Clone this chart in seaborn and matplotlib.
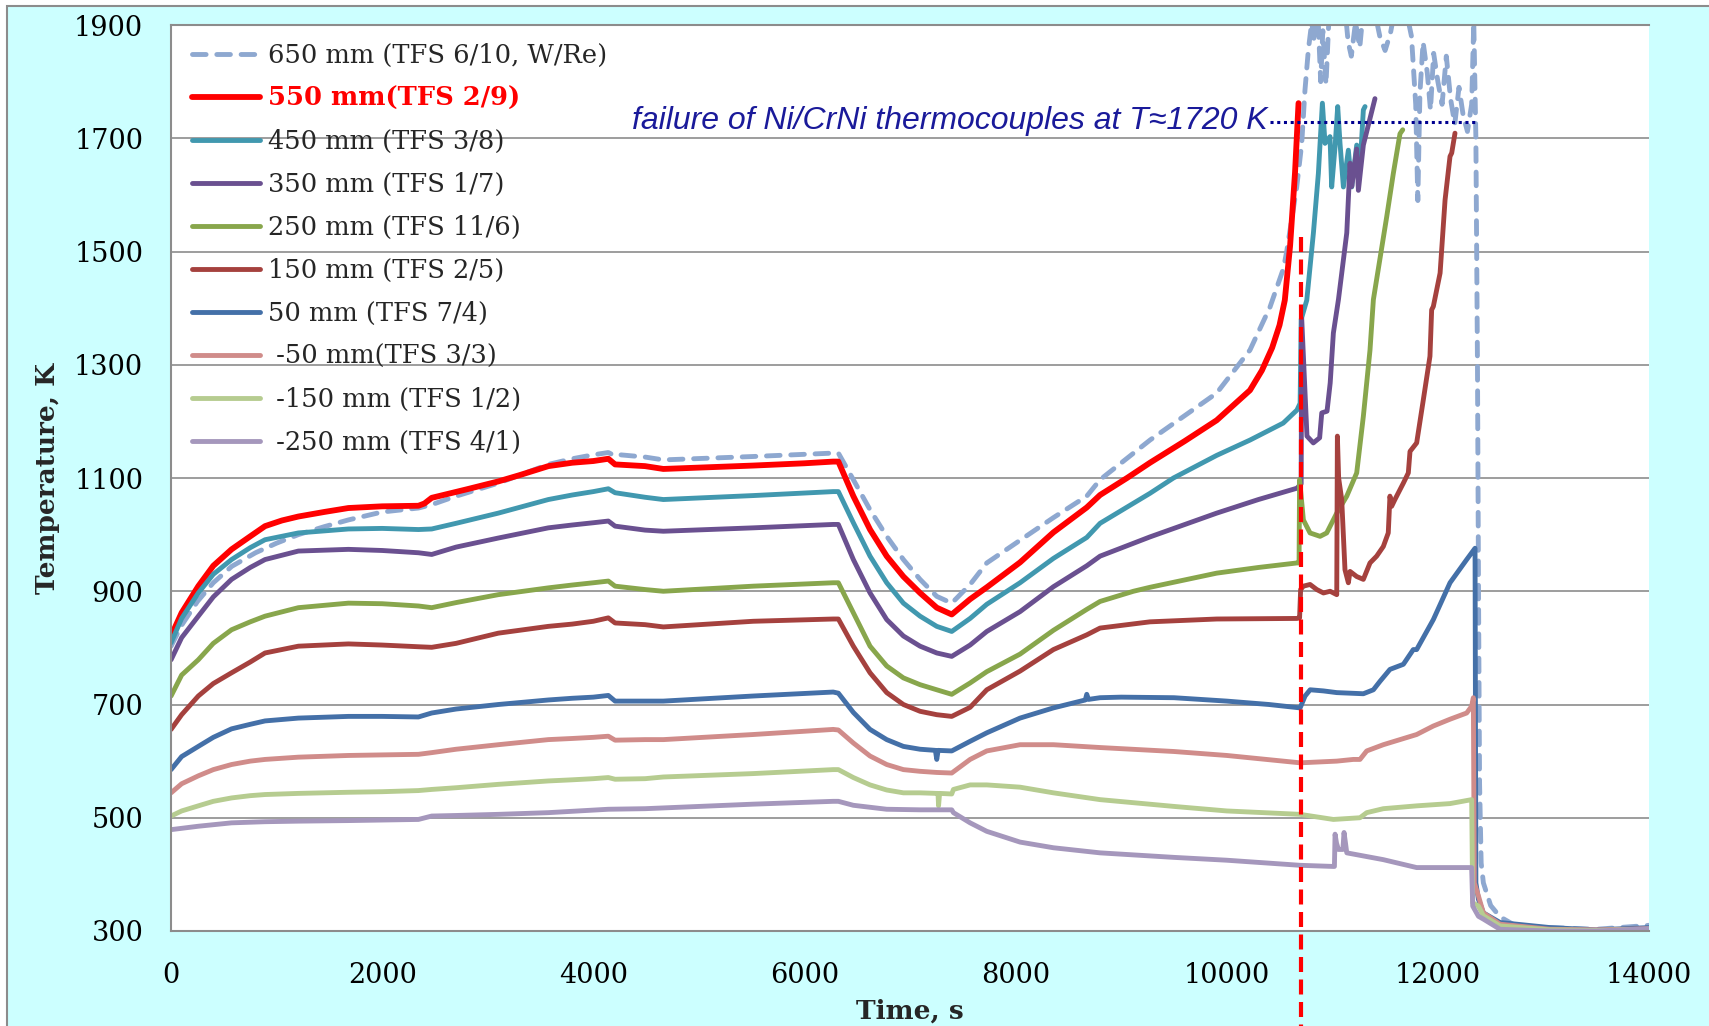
import numpy as np
import pandas as pd
import matplotlib
matplotlib.use("Agg")
import matplotlib.pyplot as plt
from matplotlib.patches import Rectangle
import seaborn as sns

# ---------------- thermocouple readings: time (s) and temperature (K) ----------------
t_650 = [0, 100, 250, 400, 575, 800, 1000, 1205, 1450, 1680, 2000, 2343, 2469, 2700, 3100, 3574,
         3800, 4000, 4142, 4206, 4253, 4490, 4663, 5515, 6272, 6321, 6463, 6621, 6779, 6937, 7095,
         7253, 7395, 7569, 7727, 8042, 8358, 8674, 8800, 9273, 9905, 10220, 10410, 10537, 10568,
         10663, 10710, 10741, 10773, 10805, 10830, 10860, 10890, 10910, 10940, 10970, 11010, 11060,
         11110, 11150, 11180, 11220, 11260, 11300, 11350, 11400, 11450, 11500, 11550, 11600, 11650,
         11700, 11750, 11790, 11810, 11830, 11860, 11900, 11930, 11960, 12000, 12040, 12080, 12120,
         12160, 12200, 12240, 12280, 12320, 12340, 12360, 12375, 12385, 12395, 12410, 12431, 12500,
         12589, 12747, 13063, 13500, 14000]
T_650 = [803, 840, 882, 915, 944, 968, 985, 1000, 1014, 1026, 1040, 1047, 1053, 1068, 1091, 1124,
         1134, 1141, 1145, 1139, 1141, 1137, 1132, 1138, 1144, 1144, 1097, 1044, 997, 956, 921,
         891, 879, 912, 950, 990, 1030, 1068, 1097, 1167, 1250, 1326, 1402, 1470, 1500,
         1614, 1690, 1785, 1856, 1905, 1870, 1935, 1800, 1890, 1795, 1920, 1960, 1905,
         1950, 1870, 1845, 1905, 1860, 1940, 1960, 1925, 1880, 1855, 1885, 1935, 1960,
         1925, 1880, 1760, 1590, 1780, 1870, 1815, 1750, 1850, 1800, 1760, 1845, 1770,
         1725, 1790, 1740, 1712, 1760, 1905, 1700, 1300, 900, 560, 420, 385, 345,
         325, 308, 306, 303, 310]

t_550 = [0, 100, 258, 400, 573, 750, 890, 1050, 1206, 1450, 1680, 2000, 2343, 2400, 2469, 2800,
         3100, 3300, 3574, 3800, 4000, 4142, 4206, 4490, 4663, 5515, 6000, 6272, 6321, 6463, 6621,
         6779, 6937, 7095, 7253, 7395, 7569, 7727, 8042, 8358, 8674, 8800, 9055, 9273, 9600, 9905,
         10220, 10333, 10430, 10500, 10550, 10600, 10647, 10680]
T_550 = [821, 862, 909, 945, 974, 997, 1015, 1025, 1032, 1040, 1047, 1050, 1051, 1055, 1065, 1080,
         1094, 1105, 1121, 1127, 1130, 1134, 1124, 1121, 1116, 1122, 1126, 1129, 1129, 1068, 1009,
         962, 926, 897, 871, 859, 886, 907, 951, 1004, 1048, 1070, 1100, 1127, 1165, 1202,
         1255, 1290, 1330, 1370, 1414, 1510, 1640, 1762]

t_450 = [0, 100, 258, 400, 573, 750, 890, 1206, 1680, 2000, 2343, 2469, 2700, 3100, 3574, 3800,
         4000, 4142, 4206, 4490, 4663, 5515, 6272, 6321, 6463, 6621, 6779, 6937, 7095, 7253, 7395,
         7569, 7727, 8042, 8358, 8674, 8800, 9273, 9495, 9905, 10220, 10535, 10665, 10695, 10705,
         10758, 10821, 10868, 10884, 10906, 10931, 10978, 10994, 11026, 11051, 11073, 11105, 11152,
         11184, 11231, 11262, 11294, 11310]
T_450 = [809, 852, 897, 930, 956, 977, 991, 1003, 1010, 1011, 1009, 1010, 1020, 1038, 1062, 1070,
         1076, 1081, 1074, 1066, 1062, 1069, 1076, 1076, 1021, 962, 915, 879, 856, 838, 829,
         852, 877, 915, 958, 995, 1020, 1073, 1100, 1140, 1167, 1197, 1220, 1232, 1380,
         1414, 1533, 1638, 1691, 1762, 1691, 1703, 1614, 1685, 1756, 1691, 1614, 1679,
         1614, 1688, 1647, 1750, 1756]

t_350 = [0, 100, 258, 400, 573, 750, 890, 1206, 1680, 2000, 2343, 2469, 2700, 3100, 3574, 3800,
         4000, 4142, 4206, 4490, 4663, 5515, 6272, 6321, 6463, 6621, 6779, 6937, 7095, 7253, 7395,
         7569, 7727, 8042, 8358, 8674, 8800, 9273, 9905, 10300, 10665, 10705, 10710, 10760, 10820,
         10880, 10900, 10950, 10980, 11010, 11058, 11137, 11168, 11184, 11231, 11247, 11294, 11357,
         11404]
T_350 = [779, 818, 856, 890, 921, 942, 956, 971, 974, 972, 968, 965, 978, 994, 1012, 1017,
         1021, 1024, 1015, 1008, 1006, 1012, 1018, 1018, 956, 897, 850, 821, 803, 791, 785,
         805, 829, 864, 908, 945, 962, 996, 1038, 1062, 1082, 1090, 1382, 1174, 1162,
         1171, 1215, 1218, 1268, 1356, 1415, 1533, 1656, 1615, 1681, 1608, 1688, 1735,
         1770]

t_250 = [0, 100, 258, 400, 573, 750, 890, 1206, 1680, 2000, 2343, 2469, 2700, 3100, 3574, 3800,
         4000, 4142, 4206, 4490, 4663, 5515, 6272, 6321, 6463, 6621, 6779, 6937, 7095, 7253, 7395,
         7569, 7727, 8042, 8358, 8674, 8800, 9116, 9273, 9905, 10300, 10665, 10685, 10690, 10726,
         10789, 10884, 10947, 11042, 11137, 11231, 11294, 11357, 11389, 11515, 11578, 11641, 11667]
T_250 = [715, 752, 779, 808, 832, 846, 856, 871, 879, 878, 874, 871, 880, 894, 906, 911,
         915, 918, 909, 903, 900, 909, 915, 915, 862, 803, 768, 747, 735, 726, 718,
         738, 758, 789, 831, 868, 882, 900, 907, 932, 942, 950, 950, 1097, 1026,
         1003, 997, 1003, 1038, 1068, 1109, 1209, 1326, 1415, 1561, 1638, 1708, 1715]

t_150 = [0, 100, 258, 400, 573, 750, 890, 1206, 1680, 2000, 2343, 2469, 2700, 3100, 3574, 3800,
         4000, 4142, 4206, 4490, 4663, 5515, 6272, 6321, 6463, 6621, 6779, 6937, 7095, 7253, 7395,
         7569, 7727, 8042, 8358, 8674, 8800, 9273, 9905, 10665, 10690, 10700, 10726, 10789, 10853,
         10916, 10979, 11042, 11048, 11060, 11089, 11120, 11152, 11168, 11231, 11294, 11357, 11420,
         11483, 11530, 11546, 11562, 11593, 11673, 11720, 11736, 11799, 11862, 11925, 11941, 11957,
         12021, 12068, 12115, 12131, 12162]
T_150 = [656, 682, 715, 737, 756, 775, 791, 803, 807, 805, 802, 801, 808, 826, 838, 842,
         847, 853, 844, 841, 837, 847, 851, 851, 803, 756, 721, 700, 688, 682, 679,
         695, 726, 759, 797, 823, 835, 846, 851, 852, 853, 903, 909, 912, 903,
         897, 900, 894, 1174, 1100, 1062, 938, 915, 935, 926, 921, 950, 962,
         979, 1003, 1068, 1050, 1062, 1091, 1109, 1147, 1162, 1238, 1315, 1397, 1403,
         1462, 1591, 1668, 1674, 1709]

t_50 = [0, 100, 258, 400, 573, 750, 890, 1206, 1680, 2000, 2343, 2469, 2700, 3100, 3574, 3800,
        4000, 4142, 4206, 4490, 4663, 5515, 6272, 6321, 6463, 6621, 6779, 6937, 7095, 7240, 7253,
        7266, 7395, 7569, 7727, 8042, 8358, 8660, 8674, 8690, 8800, 9000, 9500, 10000, 10400,
        10695, 10742, 10790, 10916, 11042, 11294, 11389, 11452, 11546, 11673, 11767, 11799, 11957,
        12115, 12273, 12352, 12360, 12384, 12431, 12589, 13063, 13500, 14000]
T_50 = [585, 608, 626, 642, 657, 665, 671, 676, 679, 679, 678, 685, 692, 700, 708, 711,
        713, 716, 706, 706, 706, 715, 722, 720, 686, 656, 638, 626, 621, 619, 603,
        619, 618, 635, 650, 676, 694, 708, 718, 709, 712, 713, 712, 706, 700,
        694, 715, 726, 724, 721, 719, 726, 741, 762, 771, 797, 797, 850,
        915, 956, 976, 385, 356, 332, 315, 306, 302, 306]

t_m50 = [0, 100, 258, 400, 573, 750, 890, 1206, 1680, 2000, 2343, 2469, 2700, 3100, 3574, 3800,
         4000, 4142, 4206, 4490, 4663, 5515, 6272, 6321, 6463, 6621, 6779, 6937, 7095, 7253, 7395,
         7569, 7727, 8042, 8358, 8800, 9500, 10000, 10695, 11042, 11199, 11262, 11326, 11483, 11641,
         11799, 11957, 12115, 12273, 12320, 12336, 12345, 12384, 12431, 12589, 13063, 13500, 14000]
T_m50 = [544, 560, 574, 585, 594, 600, 603, 607, 610, 611, 612, 615, 621, 629, 638, 640,
         642, 644, 637, 638, 638, 647, 656, 655, 632, 609, 594, 585, 582, 580, 579,
         603, 618, 629, 629, 624, 617, 610, 597, 600, 603, 603, 618, 629, 638,
         647, 662, 674, 685, 697, 712, 385, 362, 332, 312, 303, 302, 304]

t_m150 = [0, 100, 258, 400, 573, 750, 890, 1206, 1680, 2000, 2343, 2469, 2700, 3100, 3574, 3800,
          4000, 4142, 4206, 4490, 4663, 5515, 6272, 6321, 6463, 6621, 6779, 6937, 7095, 7253, 7265,
          7270, 7280, 7395, 7411, 7569, 7727, 8042, 8358, 8800, 9500, 10000, 10695, 11010, 11262,
          11326, 11483, 11799, 12115, 12320, 12330, 12384, 12431, 12589, 13063, 13500, 14000]
T_m150 = [503, 512, 521, 529, 535, 539, 541, 543, 545, 546, 548, 550, 553, 559, 565, 567,
          569, 571, 568, 569, 572, 578, 585, 585, 571, 558, 549, 544, 544, 543, 543,
          521, 543, 542, 550, 558, 558, 554, 544, 532, 520, 512, 506, 497, 500,
          509, 516, 521, 525, 532, 350, 344, 327, 309, 302, 301, 303]

t_m250 = [0, 258, 573, 890, 1206, 1680, 2343, 2469, 2700, 3100, 3574, 4142, 4490, 5515, 6272,
          6321, 6463, 6779, 7095, 7395, 7411, 7569, 7727, 8042, 8358, 8800, 9500, 10000, 10695,
          11010, 11020, 11026, 11040, 11058, 11100, 11111, 11125, 11137, 11483, 11799, 12320, 12330,
          12384, 12431, 12589, 13063, 13500, 14000]
T_m250 = [479, 485, 491, 493, 494, 495, 497, 503, 504, 506, 509, 515, 516, 524, 529,
          529, 522, 515, 514, 514, 509, 491, 476, 457, 447, 438, 430, 425, 416,
          414, 414, 471, 455, 444, 444, 474, 455, 438, 426, 412, 412, 344,
          326, 321, 303, 300, 300, 304]

labels = ["650 mm (TFS 6/10, W/Re)", "550 mm(TFS 2/9)", "450 mm (TFS 3/8)", "350 mm (TFS 1/7)",
          "250 mm (TFS 11/6)", "150 mm (TFS 2/5)", "50 mm (TFS 7/4)", " -50 mm(TFS 3/3)",
          " -150 mm (TFS 1/2)", " -250 mm (TFS 4/1)"]

series = [(t_650, T_650), (t_550, T_550), (t_450, T_450), (t_350, T_350), (t_250, T_250),
          (t_150, T_150), (t_50, T_50), (t_m50, T_m50), (t_m150, T_m150), (t_m250, T_m250)]

colors = ["#8EA8D0", "#FF0000", "#4198AF", "#6A5090", "#88A64C", "#A5413E", "#4470A8",
          "#D08C8A", "#B6CC90", "#A597BC"]
widths = [3.5, 4.2, 3.5, 3.5, 3.5, 3.5, 3.5, 3.5, 3.5, 3.5]

x_ticks = list(range(0, 14001, 2000))
y_ticks = list(range(300, 1901, 200))

failure_time = 10700
failure_note = "failure of Ni/CrNi thermocouples at T\u22481720 K"

# ---------------- figure ----------------
sns.set_style("white")
plt.rcParams["font.family"] = ["DejaVu Serif"]

fig = plt.figure(figsize=(17.09, 10.26), dpi=100)
fig.patch.set_facecolor("white")
fig.add_artist(Rectangle((0.0041, -0.01), 1.0, 1.0042, transform=fig.transFigure,
                         facecolor="#CCFFFF", edgecolor="#8C8C8C", linewidth=1.5, zorder=0))

ax = fig.add_axes([0.1001, 0.0926, 0.8648, 0.8830])
ax.set_facecolor("white")

for (tt, TT), lab, col, lw in zip(series, labels, colors, widths):
    df = pd.DataFrame({"Time": tt, "Temperature": TT})
    kw = dict(solid_capstyle="round", solid_joinstyle="round")
    if lab.startswith("650"):
        kw = dict(linestyle=(0, (2.8, 2.2)), dash_capstyle="round", dash_joinstyle="round")
    sns.lineplot(data=df, x="Time", y="Temperature", ax=ax, color=col, linewidth=lw,
                 sort=False, estimator=None, label=lab, legend=False, **kw)

# marker of the thermocouple failure moment
ax.plot([failure_time, failure_time], [1526, 132], color="#FF0000", lw=3.0,
        linestyle=(0, (3.6, 1.8)), clip_on=False, zorder=5)
ax.plot([10410, 12380], [1729, 1729], color="#000090", lw=2.2, linestyle=(0, (1, 1.2)),
        zorder=6)
ax.text(10385, 1731, failure_note, ha="right", va="center", style="italic", color="#1A1A9A",
        fontsize=23, family=["Liberation Sans", "DejaVu Sans"], zorder=6)

ax.set_xlim(0, 14000)
ax.set_ylim(300, 1900)
ax.set_xticks(x_ticks)
ax.set_yticks(y_ticks)
ax.yaxis.grid(True, color="#8C8C8C", linewidth=1.2)
ax.xaxis.grid(False)
ax.set_axisbelow(True)

for side in ["left", "bottom", "top"]:
    ax.spines[side].set_color("#8C8C8C")
    ax.spines[side].set_linewidth(1.5)
ax.spines["right"].set_visible(False)

ax.tick_params(axis="both", direction="out", length=6, width=1.5, color="#8C8C8C",
               labelsize=19.5, labelcolor="black")
ax.tick_params(axis="x", pad=16)
ax.tick_params(axis="y", pad=14)

ax.set_xlabel("Time, s", fontsize=19, fontweight="bold", labelpad=7)
ax.set_ylabel("Temperature, K", fontsize=19, fontweight="bold", labelpad=10)

leg = ax.legend(loc="upper left", bbox_to_anchor=(0.004, 0.997), frameon=False,
                fontsize=18.5, handlelength=2.65, handletextpad=0.3, labelspacing=0.7,
                borderaxespad=0.2)
for txt in leg.get_texts():
    if txt.get_text().startswith("550"):
        txt.set_color("#FF0000")
        txt.set_fontweight("bold")

fig.savefig("out.png", dpi=100, facecolor=fig.get_facecolor())
